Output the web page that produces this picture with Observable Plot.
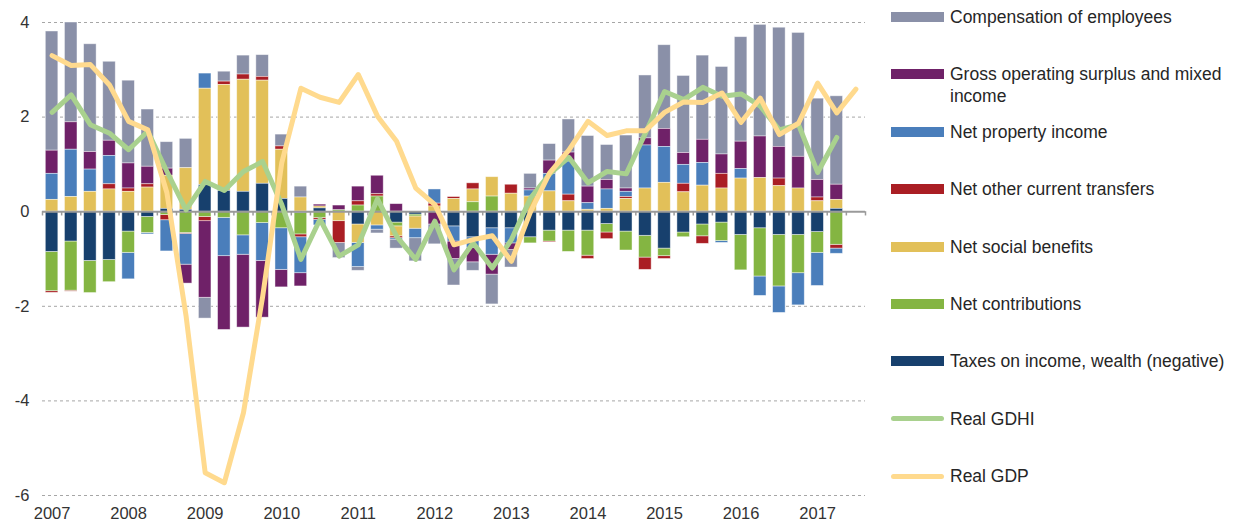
<!DOCTYPE html>
<html><head><meta charset="utf-8">
<script src="https://cdn.jsdelivr.net/npm/d3@7"></script>
<script src="https://cdn.jsdelivr.net/npm/@observablehq/plot@0.6"></script>
<style>
body{margin:0;background:#fff;font-family:"Liberation Sans",Arial,sans-serif;}
#wrap{display:flex;width:1234px;height:525px;overflow:hidden;}
#chart{width:880px;height:525px;}
#legend{width:354px;padding-top:6px;box-sizing:border-box;}
.item{display:flex;align-items:flex-start;height:57.4px;}
.sw{flex:none;width:53px;margin-left:11px;margin-right:6px;margin-top:6px;height:10px;}
.sw.line{height:5px;margin-top:8.5px;border-radius:3px;}
.lab{font-size:17.5px;line-height:22px;color:#262626;}
</style>
</head><body>
<div id="wrap"><div id="chart"></div><div id="legend"></div></div>
<script>
const quarters = ["2007 Q1","2007 Q2","2007 Q3","2007 Q4","2008 Q1","2008 Q2","2008 Q3","2008 Q4","2009 Q1","2009 Q2","2009 Q3","2009 Q4","2010 Q1","2010 Q2","2010 Q3","2010 Q4","2011 Q1","2011 Q2","2011 Q3","2011 Q4","2012 Q1","2012 Q2","2012 Q3","2012 Q4","2013 Q1","2013 Q2","2013 Q3","2013 Q4","2014 Q1","2014 Q2","2014 Q3","2014 Q4","2015 Q1","2015 Q2","2015 Q3","2015 Q4","2016 Q1","2016 Q2","2016 Q3","2016 Q4","2017 Q1","2017 Q2","2017 Q3"];
const years = ["2007","2008","2009","2010","2011","2012","2013","2014","2015","2016","2017"];
const yTicks = [4,2,0,-2,-4,-6];

const seriesNames = ["Compensation of employees","Gross operating surplus and mixed income","Net property income","Net other current transfers","Net social benefits","Net contributions","Taxes on income, wealth (negative)"];
const seriesColors = ["#8A90A8","#6F2168","#4A7EBB","#AA1E24","#E2C059","#84B542","#17406D"];
const lineNames = ["Real GDHI","Real GDP"];
const lineColors = ["#A9D18E","#FFDA8E"];

const compensation = [2.52,2.11,2.28,1.67,1.75,1.21,0.56,0.62,-0.44,0.21,0.40,0.46,0.25,0.23,0,-0.32,-0.08,-0.08,-0.19,-0.49,-0.42,-0.56,-0.18,-0.63,-0.37,0.31,0.35,0.70,1.07,0.74,1.12,1.33,1.77,1.63,1.78,1.85,2.21,2.36,2.52,2.62,1.72,1.87];
const grossOperating = [0.49,0.58,0.37,0.32,0.53,0.37,0.15,-0.40,-1.62,-1.56,-1.54,-1.20,-0.37,-0.28,0.04,0.10,0.31,0.39,0.16,0,-0.27,-0.37,-0.30,-0.42,-0.14,0.04,0.28,0.19,0.35,0.20,0.07,0.15,0.38,0.25,0.49,0.41,0.58,0.88,0.67,0.67,0.37,0.32];
const propertyIncome = [0.55,1.00,0.47,0.60,-0.56,-0.03,-0.66,-0.65,0.32,-0.81,-0.41,-0.80,-0.88,-0.76,-0.12,0,-0.51,-0.09,-0.03,-0.20,0.30,-0.32,-0.23,-0.56,-0.32,0.13,0.37,0.70,0.14,0.41,0.11,0.91,0.76,0.40,0.48,-0.04,0.20,-0.41,-0.56,-0.68,-0.70,-0.11];
const otherTransfers = [-0.035,-0.02,0,0.11,0.07,0.07,-0.11,-0.02,-0.09,0.07,0.11,0.08,0.07,-0.06,-0.04,-0.46,0.09,0.05,-0.04,0,0.06,0.04,0.13,0,0.19,0,-0.02,0.14,-0.07,-0.14,0.04,-0.26,-0.06,0.18,-0.16,0.31,0,0,0.16,0,0.08,-0.08];
const socialBenefits = [0.25,0.31,0.42,0.47,0.42,0.51,0.70,0.88,2.04,2.24,2.37,2.18,1.04,0.30,0.04,-0.20,-0.39,-0.29,-0.21,-0.26,0.11,0.27,0.27,0.41,0.38,0.32,0.43,0.22,0.04,0.06,0.27,0.49,0.61,0.41,0.55,0.49,0.70,0.71,0.54,0.49,0.22,0.19];
const contributions = [-0.83,-1.04,-0.68,-0.47,-0.45,-0.34,-0.07,-0.45,-0.11,-0.13,-0.50,-0.24,-0.35,-0.45,-0.13,0.03,0.13,0.32,-0.08,-0.04,0,0,0.20,0.32,0,-0.13,-0.23,-0.45,-0.53,-0.18,-0.40,-0.46,-0.16,-0.10,-0.25,-0.39,-0.75,-1.02,-1.09,-0.81,-0.44,-0.70];
const taxes = [-0.85,-0.63,-1.04,-1.02,-0.42,-0.11,0.06,0.04,0.56,0.44,0.42,0.59,0.27,-0.03,0.07,0,-0.27,0,-0.23,-0.06,0,-0.31,-0.54,-0.35,-0.35,-0.54,-0.40,-0.40,-0.40,-0.26,-0.42,-0.51,-0.78,-0.44,-0.27,-0.23,-0.49,-0.35,-0.49,-0.49,-0.43,0.06];

const realGDHI = [2.10,2.47,1.84,1.66,1.31,1.70,0.85,0.04,0.64,0.45,0.85,1.06,0.15,-1.01,-0.16,-0.94,-0.70,0.27,-0.52,-1.01,-0.20,-1.23,-0.66,-1.19,-0.59,0.29,0.80,1.15,0.61,0.85,0.80,1.66,2.54,2.37,2.63,2.44,2.49,2.23,1.73,1.84,0.83,1.57];
const realGDP = [3.30,3.09,3.11,2.68,1.91,1.73,0.40,-2.20,-5.52,-5.73,-4.25,-1.80,1.03,2.61,2.42,2.31,2.90,2.02,1.49,0.50,0.15,-0.70,-0.59,-0.51,-1.05,0.00,0.82,1.30,1.91,1.61,1.71,1.71,2.10,2.32,2.31,2.51,1.89,2.40,1.63,1.87,2.72,2.09,2.59];

const seriesValues = [compensation,grossOperating,propertyIncome,otherTransfers,socialBenefits,contributions,taxes];
const rows = [];
seriesNames.forEach((s,j)=>seriesValues[j].forEach((v,k)=>rows.push({k, series:s, value:v})));
const stackOrder = seriesNames.slice().reverse();
const boundaries = quarters.map((q,i)=>i-0.5).concat([quarters.length-0.5]);
const gdhiRows = realGDHI.map((v,k)=>({k,v}));
const gdpRows = realGDP.map((v,k)=>({k,v}));

const chart = Plot.plot({
  width: 880, height: 525,
  marginLeft: 42, marginRight: 15, marginTop: 22, marginBottom: 30,
  style: {fontFamily: "'Liberation Sans', Arial, sans-serif", fontSize: "16.5px", color: "#333", background: "#fff"},
  x: {type: "linear", domain: [-0.5, quarters.length-0.5]},
  y: {domain: [-6, 4]},
  color: {domain: seriesNames, range: seriesColors},
  marks: [
    Plot.ruleY(yTicks.filter(d=>d!==0), {stroke: "#a6a6a6", strokeDasharray: "3,3", strokeWidth: 1}),
    Plot.rectY(rows, Plot.stackY({x: "k", x1: d=>d.k-0.5, x2: d=>d.k+0.5, y: "value", fill: "series", order: stackOrder, insetLeft: 3.3, insetRight: 3.3, stroke: "#fff", strokeOpacity: 0.55, strokeWidth: 0.8})),
    Plot.ruleY([0], {stroke: "#9a9a9a", strokeWidth: 2}),
    Plot.ruleX(boundaries, {x: d=>d, y1: 0, y2: -0.09, stroke: "#9a9a9a", strokeWidth: 1.5}),
    Plot.line(gdhiRows, {x: "k", y: "v", stroke: lineColors[0], strokeWidth: 5, strokeLinejoin: "round", strokeLinecap: "round"}),
    Plot.line(gdpRows, {x: "k", y: "v", stroke: lineColors[1], strokeWidth: 5, strokeLinejoin: "round", strokeLinecap: "round"}),
    Plot.axisY(yTicks, {tickSize: 0, tickPadding: 13, tickFormat: d=>String(d), label: null, fill: "#333"}),
    Plot.axisX(years.map((y,i)=>i*4), {tickSize: 0, tickPadding: 12, tickFormat: d=>years[d/4], label: null, fill: "#333"})
  ]
});
document.getElementById("chart").appendChild(chart);

const legend = document.getElementById("legend");
const items = seriesNames.map((s,i)=>({name:s,color:seriesColors[i],line:false}))
  .concat(lineNames.map((s,i)=>({name:s,color:lineColors[i],line:true})));
items.forEach(it=>{
  const d = document.createElement("div"); d.className = "item";
  const sw = document.createElement("div"); sw.className = "sw" + (it.line ? " line" : ""); sw.style.background = it.color;
  const lab = document.createElement("div"); lab.className = "lab"; lab.textContent = it.name;
  d.appendChild(sw); d.appendChild(lab); legend.appendChild(d);
});
</script>
</body></html>
